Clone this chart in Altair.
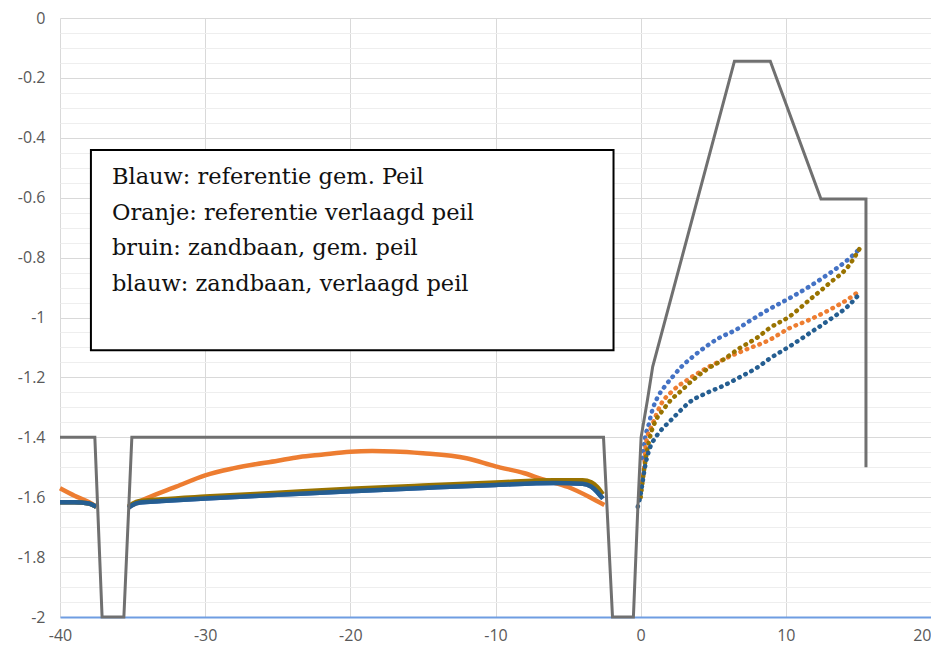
import altair as alt
import pandas as pd

# ---- grey profile line ----
prof_x = [-40, -37.6, -37.1, -35.6, -35.05, -2.56, -1.94, -0.5, -0.2, 0.03, 0.47, 0.83, 6.46, 8.93, 12.42, 15.52, 15.52]
prof_y = [-1.4, -1.4, -2.0, -2.0, -1.4, -1.4, -2.0, -2.0, -1.64, -1.4, -1.275, -1.164, -0.144, -0.144, -0.604, -0.604, -1.5]

# ---- left part A (-40 .. -37.5) ----
a_x = [-40, -39, -38, -37.5]
orange_a = [-1.57, -1.595, -1.617, -1.632]
dblue_a = [-1.617, -1.617, -1.621, -1.632]

# ---- left part B (-35.3 .. -2.5) ----
ob_x = [-35.3, -34, -32, -30, -28, -25, -23.5, -22, -20, -18.5, -17, -15, -12, -10, -8, -6.8, -5, -3.5, -2.5]
orange_b = [-1.632, -1.603, -1.565, -1.527, -1.503, -1.478, -1.466, -1.458, -1.448, -1.446, -1.447, -1.453, -1.47, -1.497, -1.52, -1.54, -1.566, -1.6, -1.626]
bb_x = [-35.3, -35, -34.5, -33, -30, -25, -20, -15, -10, -6, -4, -3.4, -3.0, -2.6]
brown_b = [-1.632, -1.622, -1.613, -1.607, -1.598, -1.585, -1.572, -1.561, -1.551, -1.543, -1.543, -1.55, -1.565, -1.59]
dblue_b = [-1.636, -1.626, -1.618, -1.613, -1.604, -1.592, -1.58, -1.569, -1.559, -1.553, -1.555, -1.565, -1.582, -1.605]

# ---- right part (dotted) ----
lblue_rx = [0.15, 0.28, 0.54, 0.83, 1.17, 1.63, 2.2, 2.9, 3.59, 4.5, 5.42, 6.57, 7.5, 8.86, 10.24, 11.61, 12.99, 14.37, 15.06]
lblue_ry = [-1.47, -1.41, -1.36, -1.305, -1.266, -1.232, -1.198, -1.16, -1.131, -1.097, -1.068, -1.041, -1.012, -0.972, -0.936, -0.897, -0.853, -0.803, -0.772]
orange_rx = [0.0, 0.1, 0.26, 0.37, 0.83, 1.4, 2.2, 3.36, 4.5, 5.88, 7.26, 8.86, 10.24, 11.61, 12.99, 14.37, 15.06]
orange_ry = [-1.57, -1.55, -1.49, -1.42, -1.355, -1.29, -1.245, -1.204, -1.17, -1.136, -1.107, -1.075, -1.036, -1.008, -0.975, -0.936, -0.912]
brown_rx = [0.0, 0.26, 0.37, 0.72, 1.06, 1.52, 2.09, 2.67, 3.59, 4.5, 5.65, 6.8, 8.06, 8.86, 10.24, 11.61, 12.99, 14.37, 15.06]
brown_ry = [-1.6, -1.5, -1.465, -1.385, -1.342, -1.31, -1.275, -1.25, -1.209, -1.175, -1.142, -1.103, -1.066, -1.036, -0.997, -0.942, -0.886, -0.825, -0.772]
dblue_rx = [-0.2, 0.0, 0.1, 0.26, 0.67, 0.99, 1.41, 1.98, 2.55, 3.36, 4.5, 5.65, 6.8, 8.06, 8.86, 10.24, 11.61, 12.99, 14.37, 15.06]
dblue_ry = [-1.632, -1.59, -1.56, -1.509, -1.431, -1.403, -1.376, -1.348, -1.32, -1.283, -1.253, -1.229, -1.2, -1.166, -1.138, -1.097, -1.053, -1.008, -0.958, -0.922]

# ---- legend text box ----
legend_lines = ["Blauw: referentie gem. Peil",
                "Oranje: referentie verlaagd peil",
                "bruin: zandbaan, gem. peil",
                "blauw: zandbaan, verlaagd peil"]
legend_y = [-0.555, -0.673, -0.792, -0.911]
legend_x = -36.42
box = {"x": -37.87, "x2": -1.87, "y": -0.441, "y2": -1.109}

x_ticks = [-40, -30, -20, -10, 0, 10, 20]
y_ticks = [round(-i * 0.05, 2) for i in range(41)]

LBLUE, ORANGE, BROWN, DBLUE, GREY = "#4472C4", "#ED7D31", "#997300", "#255E91", "#707070"

major = "abs(datum.value*5 - round(datum.value*5)) < 0.001"
x_enc = alt.X("x:Q", scale=alt.Scale(domain=[-40, 20], nice=False, zero=False),
              axis=alt.Axis(values=x_ticks, grid=True, gridColor="#d9d9d9", ticks=False, tickSize=0,
                            labelExpr="toString(datum.value)",
                            labelAlign={"condition": {"test": "datum.value == 20", "value": "right"},
                                        "value": "center"},
                            labelBaseline="alphabetic",
                            labelFont="Open Sans", labelFontSize=16, labelColor="#595959",
                            labelPadding=23, labelFlush=False, domainColor="#6F9DE2", domainWidth=2,
                            title=None))
y_enc = alt.Y("y:Q", scale=alt.Scale(domain=[-2, 0], nice=False, zero=False),
              axis=alt.Axis(values=y_ticks, grid=True,
                            gridColor={"condition": {"test": major, "value": "#d9d9d9"}, "value": "#eeeeee"},
                            ticks=False, tickSize=0, domain=False,
                            labelExpr=major + " ? toString(round(datum.value*10)/10) : ''",
                            labelFont="Open Sans", labelFontSize=16, labelColor="#595959",
                            labelPadding=15, labelFlush=False, title=None))


def seg_df(xs, ys, part):
    return pd.DataFrame({"x": xs, "y": ys, "part": part})


def solid(df, color):
    return alt.Chart(df).mark_line(color=color, strokeWidth=4.5, interpolate="monotone").encode(
        x=x_enc, y=y_enc, detail="part:N")


def dotted(df, color):
    return alt.Chart(df).mark_line(color=color, strokeWidth=4.5, strokeCap="round",
                                   strokeDash=[0.5, 6.3], interpolate="monotone").encode(x=x_enc, y=y_enc)


layers = []
# light blue (referentie gem. peil) - left part lies under dark blue
layers.append(solid(pd.concat([seg_df(a_x, dblue_a, "A"), seg_df(bb_x, dblue_b, "B")]), LBLUE))
layers.append(dotted(seg_df(lblue_rx, lblue_ry, "R"), LBLUE))
# orange
layers.append(solid(pd.concat([seg_df(a_x, orange_a, "A"), seg_df(ob_x, orange_b, "B")]), ORANGE))
layers.append(dotted(seg_df(orange_rx, orange_ry, "R"), ORANGE))
# brown
layers.append(solid(pd.concat([seg_df(a_x, dblue_a, "A"), seg_df(bb_x, brown_b, "B")]), BROWN))
layers.append(dotted(seg_df(brown_rx, brown_ry, "R"), BROWN))
# dark blue
layers.append(solid(pd.concat([seg_df(a_x, dblue_a, "A"), seg_df(bb_x, dblue_b, "B")]), DBLUE))
layers.append(dotted(seg_df(dblue_rx, dblue_ry, "R"), DBLUE))

# grey profile
prof_df = pd.DataFrame({"x": prof_x, "y": prof_y, "i": list(range(len(prof_x)))})
layers.append(alt.Chart(prof_df).mark_line(color=GREY, strokeWidth=3, strokeJoin="miter").encode(
    x=x_enc, y=y_enc, order="i:Q"))

# legend box
box_df = pd.DataFrame([box])
layers.append(alt.Chart(box_df).mark_rect(fill="white", stroke="black", strokeWidth=2).encode(
    x=x_enc, x2="x2:Q", y=y_enc, y2="y2:Q"))
text_df = pd.DataFrame({"x": [legend_x] * 4, "y": legend_y, "t": legend_lines})
layers.append(alt.Chart(text_df).mark_text(align="left", baseline="alphabetic", font="DejaVu Serif",
                                           fontSize=22.5, color="#111111").encode(
    x=x_enc, y=y_enc, text="t:N"))

chart = alt.layer(*layers).properties(
    width=871, height=599,
    autosize=alt.AutoSizeParams(type="none"),
    padding={"left": 52, "top": 10, "right": 0, "bottom": 28},
    background="white",
).configure_view(strokeWidth=0)

chart.save("out.html", embed_options={"renderer": "svg", "actions": False})
